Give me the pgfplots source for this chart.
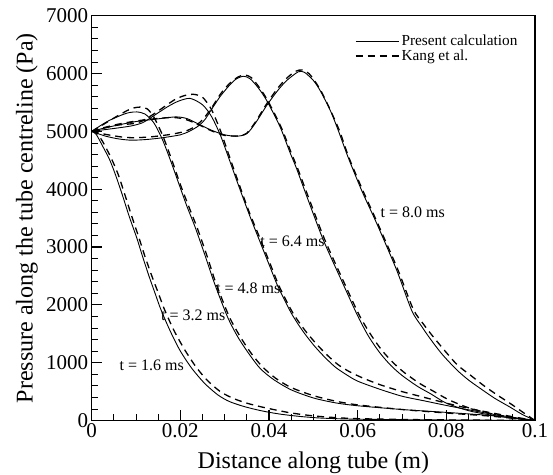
\documentclass[border=0pt]{standalone}
\usepackage{fontspec}
\setmainfont{Liberation Serif}
\usepackage{pgfplots}
\pgfplotsset{compat=1.18}
\begin{document}
\begin{tikzpicture}
\begin{axis}[
  scale only axis,
  width=443.3pt, height=404.8pt,
  xmin=0, xmax=0.1, ymin=0, ymax=7000,
  xtick={0,0.02,0.04,0.06,0.08,0.1},
  xticklabels={0,0.02,0.04,0.06,0.08,0.1},
  ytick={0,1000,2000,3000,4000,5000,6000,7000},
  yticklabels={0,1000,2000,3000,4000,5000,6000,7000},
  minor x tick num=3,
  minor y tick num=4,
  tick pos=left, tick align=inside,
  major tick length=10pt, minor tick length=6pt,
  axis line style={line width=1.6pt},
  every tick/.style={black, line width=1.2pt},
  minor tick style={line width=0.8pt},
  /pgf/number format/assume math mode=true,
  ticklabel style={font=\fontsize{21}{21}\selectfont},
  xlabel={Distance along tube (m)},
  ylabel={Pressure along the tube centreline (Pa)},
  label style={font=\fontsize{24}{24}\selectfont},
  xlabel style={at={(axis description cs:0.5,-0.104)}, anchor=center},
  ylabel style={at={(axis description cs:-0.146,0.5)}, anchor=center},
  legend style={at={(axis description cs:0.594,0.958)}, anchor=north west, draw=none, fill=none,
    font=\fontsize{15.3}{15.3}\selectfont, row sep=-1pt, inner sep=0pt},
  legend cell align=left,
  legend image code/.code={\draw[#1] (0pt,0pt) -- (35pt,0pt); \path (0pt,0pt) -- (43pt,0pt);},
  solid64/.style={black, line width=0.9pt, smooth, tension=0.45},
  kang/.style={black, line width=1.3pt, dash pattern=on 7pt off 5pt, smooth, tension=0.45},
]
% t = 1.6 ms
\addplot[solid64] coordinates {(0,5000)(0.001,4950)(0.0025,4740)(0.0041,4500)(0.0055,4220)(0.007,3880)(0.0085,3520)(0.0102,3150)(0.0115,2830)(0.013,2480)(0.0142,2220)(0.0154,1960)(0.0167,1720)(0.018,1500)(0.020,1200)(0.0226,900)(0.0255,640)(0.0285,440)(0.031,330)(0.034,250)(0.037,190)(0.0398,145)(0.043,105)(0.047,70)(0.051,45)(0.055,32)(0.060,22)(0.070,14)(0.080,9)(0.090,5)(0.1,0)};
\addlegendentry{Present calculation}
\addplot[kang] coordinates {(0,5000)(0.001,4980)(0.0025,4820)(0.0045,4520)(0.006,4250)(0.0075,3900)(0.009,3540)(0.0107,3150)(0.012,2840)(0.0137,2470)(0.015,2210)(0.0162,1960)(0.0175,1730)(0.0188,1520)(0.021,1220)(0.0235,930)(0.026,700)(0.029,500)(0.032,380)(0.035,300)(0.038,240)(0.041,190)(0.045,130)(0.050,80)(0.055,50)(0.060,32)(0.070,18)(0.080,10)(0.090,5)(0.1,0)};
\addlegendentry{Kang et al.}
% t = 3.2 ms
\addplot[solid64, forget plot] coordinates {(0,5000)(0.002,5100)(0.004,5190)(0.007,5290)(0.0085,5325)(0.0102,5336)(0.012,5300)(0.014,5150)(0.016,4850)(0.018,4450)(0.020,4020)(0.0215,3700)(0.0233,3350)(0.0255,2870)(0.0278,2350)(0.0307,1780)(0.033,1440)(0.0355,1150)(0.038,900)(0.041,710)(0.045,530)(0.050,390)(0.055,305)(0.060,255)(0.070,190)(0.080,140)(0.090,85)(0.1,0)};
\addplot[kang, forget plot] coordinates {(0,5000)(0.002,5090)(0.005,5230)(0.008,5360)(0.0095,5405)(0.011,5420)(0.0125,5390)(0.014,5250)(0.016,4930)(0.018,4520)(0.020,4080)(0.022,3680)(0.0238,3330)(0.026,2850)(0.028,2380)(0.031,1800)(0.0335,1450)(0.036,1160)(0.0385,930)(0.0415,730)(0.045,570)(0.050,430)(0.055,335)(0.060,270)(0.070,190)(0.080,130)(0.090,75)(0.1,0)};
% t = 4.8 ms
\addplot[solid64, forget plot] coordinates {(0,5000)(0.003,5030)(0.006,5060)(0.009,5095)(0.0115,5150)(0.014,5270)(0.017,5420)(0.0195,5520)(0.0222,5570)(0.025,5460)(0.027,5260)(0.029,4940)(0.031,4520)(0.033,4090)(0.0355,3570)(0.0375,3180)(0.040,2700)(0.042,2320)(0.045,1860)(0.0475,1560)(0.050,1310)(0.0525,1100)(0.055,920)(0.0575,790)(0.060,680)(0.065,540)(0.070,420)(0.075,340)(0.080,260)(0.085,185)(0.090,115)(0.095,55)(0.1,0)};
\addplot[kang, forget plot] coordinates {(0,5000)(0.003,5060)(0.006,5110)(0.0105,5150)(0.014,5300)(0.017,5460)(0.019,5560)(0.021,5620)(0.023,5640)(0.025,5590)(0.027,5380)(0.029,5020)(0.031,4580)(0.033,4140)(0.0355,3610)(0.0378,3180)(0.0403,2700)(0.0423,2320)(0.0453,1870)(0.048,1570)(0.0505,1340)(0.053,1140)(0.0555,970)(0.058,850)(0.061,740)(0.065,620)(0.070,500)(0.075,400)(0.080,300)(0.085,210)(0.090,135)(0.095,65)(0.1,0)};
% t = 6.4 ms
\addplot[solid64, forget plot] coordinates {(0,5000)(0.003,4920)(0.006,4870)(0.009,4847)(0.0125,4860)(0.016,4890)(0.020,4940)(0.022,5000)(0.024,5090)(0.0255,5200)(0.0267,5340)(0.0289,5595)(0.031,5790)(0.0325,5900)(0.0342,5953)(0.0357,5911)(0.0375,5760)(0.0395,5530)(0.0425,5077)(0.0447,4640)(0.0462,4360)(0.0485,3880)(0.0522,3130)(0.056,2480)(0.060,1810)(0.0625,1450)(0.065,1170)(0.0675,950)(0.070,780)(0.0735,590)(0.0765,460)(0.080,300)(0.085,170)(0.090,95)(0.095,40)(0.1,0)};
\addplot[kang, forget plot] coordinates {(0,5000)(0.003,4950)(0.007,4900)(0.010,4890)(0.014,4910)(0.018,4950)(0.021,5000)(0.023,5070)(0.025,5200)(0.027,5400)(0.029,5640)(0.031,5820)(0.033,5940)(0.0345,5975)(0.036,5930)(0.0378,5760)(0.0398,5520)(0.0428,5060)(0.045,4630)(0.0465,4350)(0.0488,3880)(0.0525,3140)(0.0563,2490)(0.0603,1830)(0.063,1480)(0.0655,1210)(0.068,1000)(0.0705,830)(0.074,640)(0.077,510)(0.0805,360)(0.085,220)(0.090,120)(0.095,50)(0.1,0)};
% t = 8.0 ms
\addplot[solid64, forget plot] coordinates {(0,5000)(0.003,5060)(0.006,5110)(0.010,5170)(0.0143,5210)(0.019,5250)(0.0215,5220)(0.024,5130)(0.027,5020)(0.030,4940)(0.0327,4916)(0.035,4960)(0.037,5150)(0.0395,5450)(0.042,5710)(0.044,5880)(0.0466,6030)(0.048,6020)(0.050,5880)(0.0515,5710)(0.0538,5365)(0.0556,5020)(0.0579,4540)(0.061,3960)(0.0643,3407)(0.0688,2600)(0.0722,1900)(0.0745,1620)(0.0763,1420)(0.079,1150)(0.0823,880)(0.085,700)(0.0883,520)(0.091,380)(0.0944,230)(0.097,110)(0.1,0)};
\addplot[kang, forget plot] coordinates {(0,5000)(0.003,5070)(0.007,5140)(0.012,5200)(0.018,5240)(0.021,5210)(0.024,5120)(0.027,5010)(0.030,4930)(0.033,4920)(0.035,4970)(0.037,5170)(0.0395,5480)(0.042,5750)(0.044,5920)(0.046,6040)(0.0475,6060)(0.049,6000)(0.0505,5850)(0.052,5660)(0.054,5340)(0.056,4990)(0.058,4550)(0.0612,3970)(0.0645,3410)(0.069,2620)(0.0725,1930)(0.0748,1670)(0.0767,1480)(0.0795,1220)(0.0825,960)(0.0855,780)(0.0885,600)(0.0915,440)(0.0945,290)(0.0975,130)(0.1,0)};
% annotations
\node[font=\fontsize{16}{16}\selectfont, inner sep=0pt] at (axis cs:0.01353,958) {t = 1.6 ms};
\node[font=\fontsize{16}{16}\selectfont, inner sep=0pt] at (axis cs:0.0229,1823) {t = 3.2 ms};
\node[font=\fontsize{16}{16}\selectfont, inner sep=0pt] at (axis cs:0.0353,2284) {t = 4.8 ms};
\node[font=\fontsize{16}{16}\selectfont, inner sep=0pt] at (axis cs:0.0453,3093) {t = 6.4 ms};
\node[font=\fontsize{16}{16}\selectfont, inner sep=0pt] at (axis cs:0.0724,3603) {t = 8.0 ms};
\end{axis}
\pgfresetboundingbox
\path[use as bounding box] ([xshift=-91.7pt,yshift=-54.5pt]current axis.south west) rectangle ([xshift=18pt,yshift=15.7pt]current axis.north east);
\end{tikzpicture}
\end{document}
